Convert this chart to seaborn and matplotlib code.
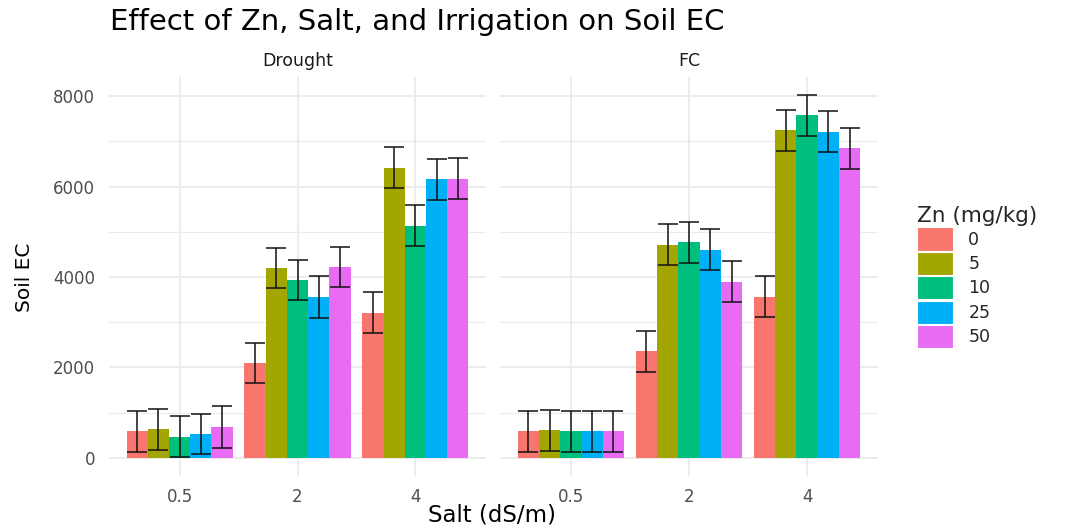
import numpy as np
import pandas as pd
import matplotlib
matplotlib.use("Agg")
import matplotlib.pyplot as plt
from matplotlib.patches import Patch
from matplotlib.ticker import MultipleLocator
import seaborn as sns

# ---- data ----
salt_levels = ["0.5", "2", "4"]
zn_levels = ["0", "5", "10", "25", "50"]
irrigation = ["Drought", "FC"]

# mean Soil EC, rows = Zn level, columns = salt level
drought_means = [
    [590, 2100, 3210],   # Zn 0
    [635, 4200, 6420],   # Zn 5
    [470, 3935, 5140],   # Zn 10
    [525, 3560, 6160],   # Zn 25
    [685, 4220, 6180],   # Zn 50
]
fc_means = [
    [590, 2360, 3570],
    [610, 4720, 7245],
    [590, 4765, 7575],
    [590, 4605, 7220],
    [590, 3900, 6850],
]
drought_err = [
    [450, 450, 450],
    [450, 450, 450],
    [450, 450, 450],
    [450, 455, 455],
    [460, 450, 455],
]
fc_err = [
    [450, 450, 450],
    [450, 455, 450],
    [450, 450, 450],
    [450, 450, 450],
    [450, 450, 450],
]

palette = ["#F8766D", "#A3A500", "#00BF7D", "#00B0F6", "#E76BF3"]

rows = []
for irr, means, errs in [("Drought", drought_means, drought_err), ("FC", fc_means, fc_err)]:
    for i, zn in enumerate(zn_levels):
        for j, s in enumerate(salt_levels):
            rows.append({"Irrigation": irr, "Zn": zn, "Salt": s,
                         "EC": means[i][j], "SE": errs[i][j]})
df = pd.DataFrame(rows)

# ---- style ----
sns.set_theme(style="white")
plt.rcParams["font.family"] = ["DejaVu Sans"]

W, H = 1065, 528
fig = plt.figure(figsize=(W / 100, H / 100), dpi=100)
fig.patch.set_facecolor("white")

panel_px = [(109, 486), (500, 878)]
top_px, bot_px = 77, 476

for k, irr in enumerate(irrigation):
    l, r = panel_px[k]
    ax = fig.add_axes([l / W, 1 - bot_px / H, (r - l) / W, (bot_px - top_px) / H])
    sub = df[df["Irrigation"] == irr]
    sns.barplot(data=sub, x="Salt", y="EC", hue="Zn", order=salt_levels,
                hue_order=zn_levels, palette=palette, saturation=1,
                errorbar=None, width=0.9, linewidth=0, legend=False,
                ax=ax, zorder=2)
    bar_conts = list(ax.containers)
    # error bars placed on the seaborn bars
    for zi, cont in enumerate(bar_conts):
        zn = zn_levels[zi]
        for si, patch in enumerate(cont.patches):
            s = salt_levels[si]
            rec = sub[(sub["Zn"] == zn) & (sub["Salt"] == s)].iloc[0]
            xc = patch.get_x() + patch.get_width() / 2
            ax.errorbar(xc, rec["EC"], yerr=rec["SE"], fmt="none",
                        ecolor="#111111", elinewidth=1.1, capsize=7.3,
                        capthick=1.1, zorder=3)
    ax.set_xlim(-0.6, 2.6)
    ax.set_ylim(-401, 8426)
    ax.yaxis.set_major_locator(MultipleLocator(2000))
    ax.yaxis.set_minor_locator(MultipleLocator(1000))
    ax.grid(True, which="major", axis="both", color="#EBEBEB", linewidth=1.3, zorder=0)
    ax.grid(True, which="minor", axis="y", color="#EBEBEB", linewidth=0.8, zorder=0)
    ax.set_axisbelow(True)
    for sp in ax.spines.values():
        sp.set_visible(False)
    ax.tick_params(axis="both", which="both", length=0, labelsize=12,
                   labelcolor="#4D4D4D")
    ax.tick_params(axis="y", pad=10)
    ax.tick_params(axis="x", pad=9)
    ax.set_xlabel("")
    ax.set_ylabel("")
    ax.set_title(irr, fontsize=12.5, color="#1A1A1A", pad=8)
    if k == 1:
        ax.set_yticklabels([])

fig.text(110 / W, 1 - 22 / H, "Effect of Zn, Salt, and Irrigation on Soil EC",
         fontsize=21, ha="left", va="center", color="black")
fig.text(492 / W, 1 - 515 / H, "Salt (dS/m)", fontsize=16.5, ha="center",
         va="center", color="black")
fig.text(24 / W, 1 - 277 / H, "Soil EC", fontsize=14.5, ha="center",
         va="center", rotation=90, color="black")

handles = [Patch(facecolor=c, edgecolor="white", linewidth=0.8) for c in palette]
leg = fig.legend(handles, zn_levels, title="Zn (mg/kg)", loc="upper left",
                 bbox_to_anchor=(905 / W, 1 - 194 / H), frameon=False,
                 fontsize=12.5, title_fontsize=15.5, handlelength=2.05,
                 handleheight=1.68, labelspacing=0.07, handletextpad=0.9,
                 borderpad=0.2)
leg._legend_box.align = "left"

fig.savefig("out.png", dpi=100, facecolor="white")
